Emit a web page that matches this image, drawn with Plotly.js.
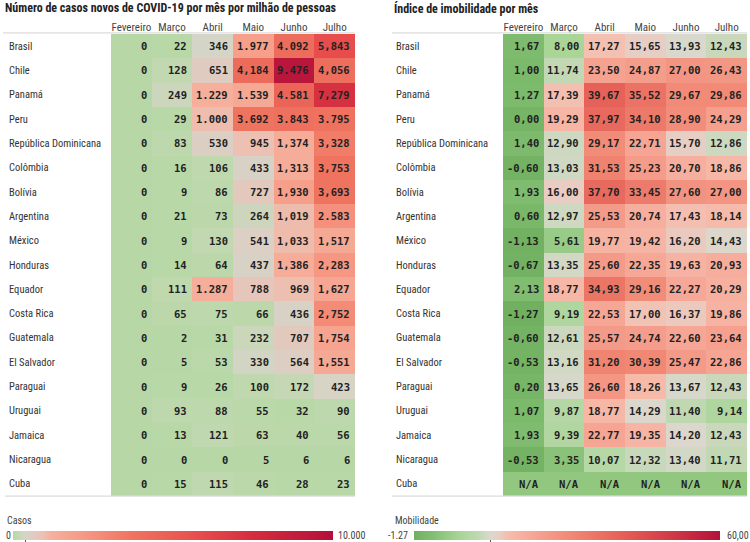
<!DOCTYPE html>
<html>
<head>
<meta charset="utf-8">
<script src="https://cdn.plot.ly/plotly-3.0.1.min.js"></script>
<style>html,body{margin:0;padding:0;background:#fff;}#chart{width:750px;height:542px;}</style>
</head>
<body>
<div id="chart"></div>
<script>
// ---------- DATA ----------
const months = ["Fevereiro", "Março", "Abril", "Maio", "Junho", "Julho"];
const countries = ["Brasil", "Chile", "Panamá", "Peru", "República Dominicana", "Colômbia", "Bolívia",
  "Argentina", "México", "Honduras", "Equador", "Costa Rica", "Guatemala", "El Salvador",
  "Paraguai", "Uruguai", "Jamaica", "Nicaragua", "Cuba"];

// New cases per million, by month (one value per country, same order)
const casesFev = [0,0,0,0,0,0,0,0,0,0,0,0,0,0,0,0,0,0,0];
const casesMar = [22,128,249,29,83,16,9,21,9,14,111,65,2,5,9,93,13,0,15];
const casesAbr = [346,651,1229,1000,530,106,86,73,130,64,1287,75,31,53,26,88,121,0,115];
const casesMai = [1977,4184,1539,3692,945,433,727,264,541,437,788,66,232,330,100,55,63,5,46];
const casesJun = [4092,9476,4581,3843,1374,1313,1930,1019,1033,1386,969,436,707,564,172,32,40,6,28];
const casesJul = [5843,4056,7279,3795,3328,3753,3693,2583,1517,2283,1627,2752,1754,1551,423,90,56,6,23];
// cells printed with a comma as thousands separator in the source ("row,col")
const commaCells = ["0,5","1,3","1,5","2,5","4,4","4,5","5,4","5,5","6,4","6,5","7,4","8,4","8,5",
  "9,4","9,5","10,5","11,5","12,5","13,5"];

// Immobility index, by month (null = N/A)
const mobFev = [1.67,1.00,1.27,0.00,1.40,-0.60,1.93,0.60,-1.13,-0.67,2.13,-1.27,-0.60,-0.53,0.20,1.07,1.93,-0.53,null];
const mobMar = [8.00,11.74,17.39,19.29,12.90,13.03,16.00,12.97,5.61,13.35,18.77,9.19,12.61,13.16,13.65,9.87,9.39,3.35,null];
const mobAbr = [17.27,23.50,39.67,37.97,29.17,31.53,37.70,25.53,19.77,25.60,34.93,22.53,25.57,31.20,26.60,18.77,22.77,10.07,null];
const mobMai = [15.65,24.87,35.52,34.10,22.71,25.23,33.45,20.74,19.42,22.35,29.16,17.00,24.74,30.39,18.26,14.29,19.35,12.32,null];
const mobJun = [13.93,27.00,29.67,28.90,15.70,20.70,27.60,17.43,16.20,19.63,22.27,16.37,22.60,25.47,13.67,11.40,14.20,13.40,null];
const mobJul = [12.43,26.43,29.86,24.29,12.86,18.86,27.00,18.14,14.43,20.93,20.29,19.86,23.64,22.86,12.43,9.14,12.43,11.71,null];

const casesRange = [0, 10000];
const mobRange = [-1.27, 60];

// ---------- BUILD ----------
const casesCols = [casesFev, casesMar, casesAbr, casesMai, casesJun, casesJul];
const mobCols = [mobFev, mobMar, mobAbr, mobMai, mobJun, mobJul];
const zCases = countries.map((c, i) => casesCols.map(col => col[i]));
const zMob = countries.map((c, i) => mobCols.map(col => col[i]));
const zNA = countries.map((c, i) => mobCols.map(col => col[i] === null ? 1 : null));

function fmtCases(v, key) {
  const sep = commaCells.includes(key) ? "," : ".";
  return String(v).replace(/\B(?=(\d{3})+(?!\d))/g, sep);
}
function fmtMob(v) { return v === null ? "N/A" : v.toFixed(2).replace(".", ","); }

const NARROW = "Liberation Sans Narrow, Roboto Condensed, DejaVu Sans Condensed, Arial Narrow, sans-serif";
const MONO = "DejaVu Sans Mono, Liberation Mono, monospace";

const casesScale = [
  [0, "rgb(183,216,166)"], [0.012, "rgb(192,216,175)"], [0.035, "rgb(212,213,198)"],
  [0.06, "rgb(222,205,195)"], [0.095, "rgb(236,192,178)"], [0.12, "rgb(245,176,156)"],
  [0.2, "rgb(246,158,138)"], [0.37, "rgb(239,116,96)"], [0.58, "rgb(230,78,76)"],
  [0.75, "rgb(212,45,62)"], [1, "rgb(178,16,58)"]
];
const mobScale = [
  [0, "rgb(112,176,96)"], [0.06, "rgb(130,190,114)"], [0.15, "rgb(168,213,150)"],
  [0.21, "rgb(192,216,178)"], [0.25, "rgb(218,216,205)"], [0.28, "rgb(232,205,195)"],
  [0.31, "rgb(246,188,172)"], [0.4, "rgb(246,163,146)"], [0.52, "rgb(240,135,115)"],
  [0.67, "rgb(230,98,88)"], [0.85, "rgb(208,55,70)"], [1, "rgb(178,18,58)"]
];

const traces = [
  {
    type: "heatmap", x: months, y: countries, z: zCases, xaxis: "x", yaxis: "y",
    zmin: casesRange[0], zmax: casesRange[1], colorscale: casesScale, hoverinfo: "skip",
    colorbar: {
      orientation: "h", x: 173/750, xanchor: "center", y: 1 - 536.5/542, yanchor: "middle",
      len: 320/750, lenmode: "fraction", thickness: 9, outlinewidth: 0, xpad: 0, ypad: 0,
      tickvals: [400], ticks: "outside", ticklen: 3, tickcolor: "#555", showticklabels: false
    }
  },
  {
    type: "heatmap", x: months, y: countries, z: zMob, xaxis: "x2", yaxis: "y2",
    zmin: mobRange[0], zmax: mobRange[1], colorscale: mobScale, hoverinfo: "skip",
    colorbar: {
      orientation: "h", x: 567/750, xanchor: "center", y: 1 - 536.5/542, yanchor: "middle",
      len: 306/750, lenmode: "fraction", thickness: 9, outlinewidth: 0, xpad: 0, ypad: 0,
      tickvals: [14], ticks: "outside", ticklen: 3, tickcolor: "#555", showticklabels: false
    }
  },
  {
    type: "heatmap", x: months, y: countries, z: zNA, xaxis: "x2", yaxis: "y2",
    zmin: 0, zmax: 1, colorscale: [[0, "rgb(146,199,128)"], [1, "rgb(146,199,128)"]],
    showscale: false, hoverinfo: "skip"
  }
];

const annotations = [];
// titles
annotations.push({xref: "paper", yref: "paper", x: 3/750, y: 1 - 8/542, xanchor: "left", yanchor: "middle",
  text: "<b>Número de casos novos de COVID-19 por mês por milhão de pessoas</b>", showarrow: false,
  font: {family: NARROW, size: 12, color: "#222"}});
annotations.push({xref: "paper", yref: "paper", x: 392/750, y: 1 - 9/542, xanchor: "left", yanchor: "middle",
  text: "<b>Índice de imobilidade por mês</b>", showarrow: false,
  font: {family: NARROW, size: 12, color: "#222"}});

// row labels + cell values
countries.forEach((c, i) => {
  annotations.push({xref: "paper", yref: "y", x: 7/750, y: c, xanchor: "left", yanchor: "middle",
    text: c, showarrow: false, font: {family: NARROW, size: 10.5, color: "#333"}});
  annotations.push({xref: "paper", yref: "y2", x: 394/750, y: c, xanchor: "left", yanchor: "middle",
    text: c, showarrow: false, font: {family: NARROW, size: 10.5, color: "#333"}});
  months.forEach((m, j) => {
    annotations.push({xref: "x", yref: "y", x: j + 0.43, y: i, xanchor: "right", yanchor: "middle",
      text: "<b>" + fmtCases(casesCols[j][i], i + "," + j) + "</b>", showarrow: false,
      font: {family: MONO, size: 10.5, color: "#222"}});
    annotations.push({xref: "x2", yref: "y2", x: j + 0.43, y: i, xanchor: "right", yanchor: "middle",
      text: "<b>" + fmtMob(mobCols[j][i]) + "</b>", showarrow: false,
      font: {family: MONO, size: 10.5, color: "#222"}});
  });
});

// colorbar labels
const cbFont = {family: NARROW, size: 10, color: "#444"};
annotations.push({xref: "paper", yref: "paper", x: 5/750, y: 1 - 521/542, xanchor: "left", yanchor: "middle", text: "Casos", showarrow: false, font: cbFont});
annotations.push({xref: "paper", yref: "paper", x: 4/750, y: 1 - 536.5/542, xanchor: "left", yanchor: "middle", text: String(casesRange[0]), showarrow: false, font: cbFont});
annotations.push({xref: "paper", yref: "paper", x: 336/750, y: 1 - 536.5/542, xanchor: "left", yanchor: "middle", text: "10.000", showarrow: false, font: cbFont});
annotations.push({xref: "paper", yref: "paper", x: 393/750, y: 1 - 521/542, xanchor: "left", yanchor: "middle", text: "Mobilidade", showarrow: false, font: cbFont});
annotations.push({xref: "paper", yref: "paper", x: 410/750, y: 1 - 536.5/542, xanchor: "right", yanchor: "middle", text: String(mobRange[0]), showarrow: false, font: cbFont});
annotations.push({xref: "paper", yref: "paper", x: 725/750, y: 1 - 536.5/542, xanchor: "left", yanchor: "middle", text: "60,00", showarrow: false, font: cbFont});

const lineStyle = {color: "#dcdcdc", width: 1.2};
const shapes = [
  {type: "line", xref: "paper", yref: "paper", x0: 3/750, x1: 355/750, y0: 1 - 33/542, y1: 1 - 33/542, line: lineStyle},
  {type: "line", xref: "paper", yref: "paper", x0: 5/750, x1: 355/750, y0: 1 - 497/542, y1: 1 - 497/542, line: lineStyle},
  {type: "line", xref: "paper", yref: "paper", x0: 392/750, x1: 747/750, y0: 1 - 33/542, y1: 1 - 33/542, line: lineStyle},
  {type: "line", xref: "paper", yref: "paper", x0: 392/750, x1: 747/750, y0: 1 - 497/542, y1: 1 - 497/542, line: lineStyle}
];

const xCommon = {side: "top", showgrid: false, zeroline: false, showline: false, ticks: "",
  tickfont: {family: NARROW, size: 11, color: "#444"}, fixedrange: true, type: "category"};
const yCommon = {autorange: "reversed", showgrid: false, zeroline: false, showline: false,
  showticklabels: false, ticks: "", fixedrange: true, type: "category"};

const layout = {
  width: 750, height: 542,
  margin: {l: 0, r: 0, t: 0, b: 0},
  paper_bgcolor: "#fff", plot_bgcolor: "#fff",
  showlegend: false,
  xaxis: Object.assign({}, xCommon, {domain: [111/750, 355/750], anchor: "y"}),
  yaxis: Object.assign({}, yCommon, {domain: [1 - 497/542, 1 - 34/542], anchor: "x"}),
  xaxis2: Object.assign({}, xCommon, {domain: [503/750, 747/750], anchor: "y2"}),
  yaxis2: Object.assign({}, yCommon, {domain: [1 - 497/542, 1 - 34/542], anchor: "x2"}),
  annotations: annotations,
  shapes: shapes
};

Plotly.newPlot("chart", traces, layout, {displayModeBar: false, staticPlot: true});
</script>
</body>
</html>
